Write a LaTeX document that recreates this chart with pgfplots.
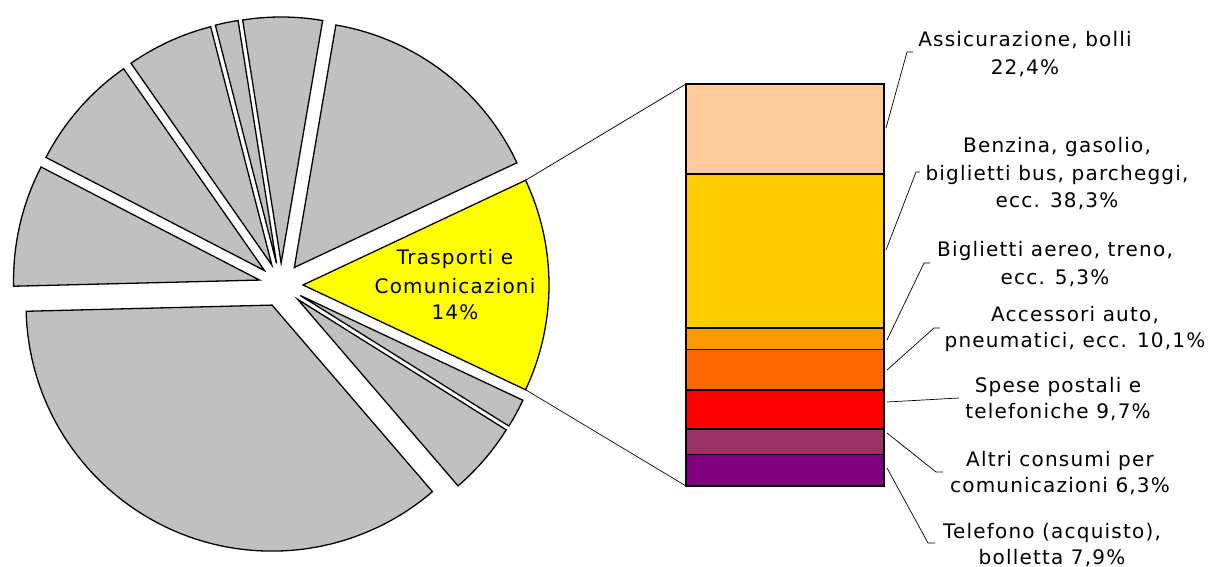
\documentclass[border=0pt]{standalone}
\usepackage{fontspec}
\setmainfont{DejaVu Sans}[LetterSpace=6]
\usepackage{pgfplots}
\pgfplotsset{compat=1.18}
\definecolor{pieyellow}{HTML}{FFFF00}
\definecolor{piegray}{HTML}{C0C0C0}
\definecolor{cA}{HTML}{FFCC99}
\definecolor{cB}{HTML}{FFCC00}
\definecolor{cC}{HTML}{FF9900}
\definecolor{cD}{HTML}{FF6600}
\definecolor{cE}{HTML}{FF0000}
\definecolor{cF}{HTML}{993366}
\definecolor{cG}{HTML}{800080}
\begin{document}
\fontsize{20}{29}\selectfont
\begin{tikzpicture}[x=1pt,y=1pt]
\begin{axis}[at={(0,0)}, anchor=south west, scale only axis,
  width=1212pt, height=567pt, xmin=0, xmax=1212, ymin=0, ymax=567,
  hide axis, clip=false]
  % pie slices (percent), counterclockwise from -25.2 deg
  \def\cum{-25.2}
  \foreach \v/\col in {14/pieyellow, 15.3/piegray, 5.2/piegray, 1.5/piegray, 5.7/piegray, 7.7/piegray, 8.0/piegray, 35.9/piegray, 4.8/piegray, 1.9/piegray}{
    \pgfmathsetmacro\a{\cum}
    \pgfmathsetmacro\b{\cum+3.6*\v}
    \pgfmathsetmacro\m{(\a+\b)/2}
    \edef\tmp{\noexpand\draw[fill=\col, line width=1.3pt, line join=miter] (axis cs:281,282) ++(\m:22pt) -- ++(\a:246pt) arc[start angle=\a, end angle=\b, radius=246pt] -- cycle;}
    \tmp
    \xdef\cum{\b}
  }
  % connectors
  \draw[line width=0.7pt] (axis cs:281,282) ++(0:22pt) ++(25.2:246pt) -- (axis cs:686,483);
  \draw[line width=0.7pt] (axis cs:281,282) ++(0:22pt) ++(-25.2:246pt) -- (axis cs:686,81);
  % pie label
  \node[anchor=base, inner sep=0pt] at (axis cs:455,302) {Trasporti e};
  \node[anchor=base, inner sep=0pt] at (axis cs:455,273) {Comunicazioni};
  \node[anchor=base, inner sep=0pt] at (axis cs:455,247) {14\%};
  % leaders
  \draw[line width=0.7pt] (axis cs:886,439) -- (axis cs:907,515) -- (axis cs:913,515);
  \draw[line width=0.7pt] (axis cs:886,317) -- (axis cs:916,395) -- (axis cs:920,395);
  \draw[line width=0.7pt] (axis cs:887,227) -- (axis cs:924,304) -- (axis cs:930,304);
  \draw[line width=0.7pt] (axis cs:887,197) -- (axis cs:934,239) -- (axis cs:940,239);
  \draw[line width=0.7pt] (axis cs:887,165) -- (axis cs:959,169);
  \draw[line width=0.7pt] (axis cs:887,134) -- (axis cs:936,95) -- (axis cs:943,95);
  \draw[line width=0.7pt] (axis cs:887,99) -- (axis cs:928,24) -- (axis cs:935,24);
  % labels
  \node[anchor=base, inner sep=0pt] at (axis cs:1025,520) {Assicurazione, bolli};
  \node[anchor=base, inner sep=0pt] at (axis cs:1025,492) {22,4\%};
  \node[anchor=base, inner sep=0pt] at (axis cs:1057,414) {Benzina, gasolio,};
  \node[anchor=base, inner sep=0pt] at (axis cs:1057,386) {biglietti bus, parcheggi,};
  \node[anchor=base, inner sep=0pt] at (axis cs:1057,359) {ecc. 38,3\%};
  \node[anchor=base, inner sep=0pt] at (axis cs:1055,310) {Biglietti aereo, treno,};
  \node[anchor=base, inner sep=0pt] at (axis cs:1055,282) {ecc. 5,3\%};
  \node[anchor=base, inner sep=0pt] at (axis cs:1075,245) {Accessori auto,};
  \node[anchor=base, inner sep=0pt] at (axis cs:1075,219) {pneumatici, ecc. 10,1\%};
  \node[anchor=base, inner sep=0pt] at (axis cs:1058,174) {Spese postali e};
  \node[anchor=base, inner sep=0pt] at (axis cs:1058,148) {telefoniche 9,7\%};
  \node[anchor=base, inner sep=0pt] at (axis cs:1060,100) {Altri consumi per};
  \node[anchor=base, inner sep=0pt] at (axis cs:1060,74) {comunicazioni 6,3\%};
  \node[anchor=base, inner sep=0pt] at (axis cs:1052,28) {Telefono (acquisto),};
  \node[anchor=base, inner sep=0pt] at (axis cs:1052,2) {bolletta 7,9\%};
\end{axis}
\begin{axis}[at={(686pt,81pt)}, anchor=south west, scale only axis,
  width=198pt, height=402pt, xmin=-0.5, xmax=0.5, ymin=0, ymax=100,
  ybar stacked, bar width=198pt, hide axis, clip=false]
  \addplot[fill=cG, draw=black, line width=1.4pt] coordinates {(0,7.9)};
  \addplot[fill=cF, draw=black, line width=1.4pt] coordinates {(0,6.3)};
  \addplot[fill=cE, draw=black, line width=1.4pt] coordinates {(0,9.7)};
  \addplot[fill=cD, draw=black, line width=1.4pt] coordinates {(0,10.1)};
  \addplot[fill=cC, draw=black, line width=1.4pt] coordinates {(0,5.3)};
  \addplot[fill=cB, draw=black, line width=1.4pt] coordinates {(0,38.3)};
  \addplot[fill=cA, draw=black, line width=1.4pt] coordinates {(0,22.4)};
\end{axis}
\pgfresetboundingbox
\useasboundingbox (0,0) rectangle (1212,567);
\end{tikzpicture}
\end{document}
